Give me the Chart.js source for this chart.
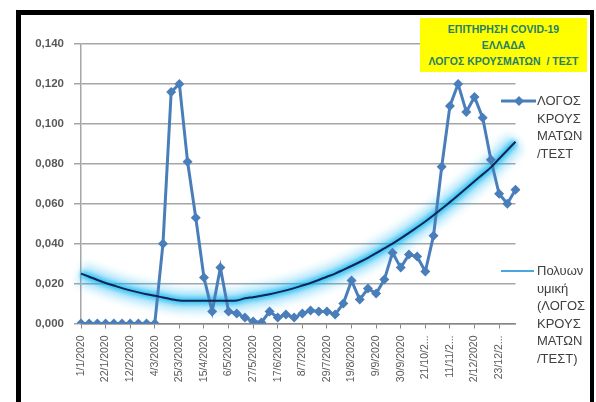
<!DOCTYPE html>
<html>
<head>
<meta charset="utf-8">
<script src="https://cdn.jsdelivr.net/npm/chart.js@4/dist/chart.umd.min.js"></script>
<style>
  html, body { margin: 0; padding: 0; background: #ffffff; }
  body { width: 596px; height: 402px; position: relative; overflow: hidden; font-family: "Liberation Sans", Arial, sans-serif; }
  #wrap { position: absolute; left: 0; top: 0; width: 596px; height: 402px; }
  .bd { position: absolute; background: #000; z-index: 5; }
  #titleBox { position: absolute; left: 420px; top: 18px; width: 167px; height: 54px; background: #ffff00; z-index: 4;
    color: #26806a; font: bold 10.5px "Liberation Sans Narrow", "Liberation Sans", Arial, sans-serif; text-align: center; line-height: 16px; padding-top: 3px; box-sizing: border-box; }
  .lg { position: absolute; z-index: 4; color: #404040; font: 13px "Liberation Sans", Arial, sans-serif; line-height: 17.5px; }
</style>
</head>
<body>
<div id="wrap"><canvas id="c" width="596" height="402"></canvas></div>
<div class="bd" style="left:16px; top:10px; width:5px; height:392px;"></div>
<div class="bd" style="left:16px; top:10px; width:578px; height:5px;"></div>
<div class="bd" style="left:590px; top:10px; width:4px; height:392px;"></div>
<div id="titleBox">ΕΠΙΤΗΡΗΣΗ COVID-19<br>ΕΛΛΑΔΑ<br>ΛΟΓΟΣ ΚΡΟΥΣΜΑΤΩΝ&nbsp; / ΤΕΣΤ</div>
<div id="legend"></div>
<script>
// ---- Data ----
const categories = [
  "1/1/2020","8/1/2020","15/1/2020","22/1/2020","29/1/2020","5/2/2020","12/2/2020","19/2/2020","26/2/2020",
  "4/3/2020","11/3/2020","18/3/2020","25/3/2020","1/4/2020","8/4/2020","15/4/2020","22/4/2020","29/4/2020",
  "6/5/2020","13/5/2020","20/5/2020","27/5/2020","3/6/2020","10/6/2020","17/6/2020","24/6/2020","1/7/2020",
  "8/7/2020","15/7/2020","22/7/2020","29/7/2020","5/8/2020","12/8/2020","19/8/2020","26/8/2020","2/9/2020",
  "9/9/2020","16/9/2020","23/9/2020","30/9/2020","7/10/2020","14/10/2020","21/10/2020","28/10/2020","4/11/2020",
  "11/11/2020","18/11/2020","25/11/2020","2/12/2020","9/12/2020","16/12/2020","23/12/2020","30/12/2020","6/1/2021"
];
const ratioValues = [
  0, 0, 0, 0, 0, 0, 0, 0, 0,
  0, 0.040, 0.116, 0.120, 0.081, 0.053, 0.023, 0.006, 0.028,
  0.006, 0.005, 0.003, 0.001, 0.0005, 0.006, 0.003, 0.0045, 0.003,
  0.005, 0.0065, 0.006, 0.006, 0.0045, 0.010, 0.0215, 0.012, 0.0175,
  0.015, 0.022, 0.0355, 0.028, 0.0345, 0.0335, 0.026, 0.044, 0.0785,
  0.109, 0.120, 0.106, 0.1135, 0.103, 0.082, 0.065, 0.060, 0.067
];
const trendValues = [
  0.0250, 0.0234, 0.0218, 0.0203, 0.0190, 0.0177, 0.0166, 0.0156, 0.0147,
  0.0139, 0.0130, 0.0122, 0.0115, 0.0114, 0.0114, 0.0114, 0.0114, 0.0114,
  0.0114, 0.0115, 0.0126, 0.0132, 0.0139, 0.0147, 0.0156, 0.0166, 0.0177,
  0.0190, 0.0203, 0.0218, 0.0234, 0.0250, 0.0269, 0.0288, 0.0308, 0.0329,
  0.0352, 0.0376, 0.0400, 0.0426, 0.0454, 0.0482, 0.0511, 0.0542, 0.0575,
  0.0608, 0.0642, 0.0677, 0.0712, 0.0747, 0.0782, 0.0825, 0.0868, 0.0910
];
const yMin = 0, yMax = 0.14, yStep = 0.02;
const labelEvery = 3;
const seriesName = "ΛΟΓΟΣ ΚΡΟΥΣΜΑΤΩΝ /ΤΕΣΤ";
const trendName = "Πολυωνυμική (ΛΟΓΟΣ ΚΡΟΥΣΜΑΤΩΝ /ΤΕΣΤ)";
const legendLines1 = ["ΛΟΓΟΣ", "ΚΡΟΥΣ", "ΜΑΤΩΝ", "/ΤΕΣΤ"];
const legendLines2 = ["Πολυων", "υμική", "(ΛΟΓΟΣ", "ΚΡΟΥΣ", "ΜΑΤΩΝ", "/ΤΕΣΤ)"];

// ---- Legend (HTML text) ----
(function(){
  const lg = document.getElementById('legend');
  lg.innerHTML =
    '<svg style="position:absolute;left:500px;top:94px;z-index:4" width="38" height="14">' +
      '<line x1="1" y1="7" x2="36" y2="7" stroke="#4A7EBB" stroke-width="3"/>' +
      '<polygon points="19,2 24,7 19,12 14,7" fill="#4A7EBB"/></svg>' +
    '<div class="lg" style="left:537px;top:92px;">' + legendLines1.join('<br>') + '</div>' +
    '<svg style="position:absolute;left:500px;top:264px;z-index:4" width="38" height="14">' +
      '<line x1="1" y1="7" x2="34" y2="7" stroke="#4aa6df" stroke-width="2"/></svg>' +
    '<div class="lg" style="left:537px;top:262px;">' + legendLines2.join('<br>') + '</div>';
})();

// ---- Glow plugin ----
const glowPlugin = {
  id: 'glow',
  beforeDatasetDraw(chart, args) {
    const ds = chart.data.datasets[args.index];
    if (ds.glowBlur) { chart.ctx.save(); chart.ctx.filter = 'blur(' + ds.glowBlur + 'px)'; }
  },
  afterDatasetDraw(chart, args) {
    const ds = chart.data.datasets[args.index];
    if (ds.glowBlur) { chart.ctx.restore(); }
  }
};

const fmt = v => v.toFixed(3).replace('.', ',');
const shortLabel = s => s.length > 9 ? s.slice(0, 7) + '...' : s;

new Chart(document.getElementById('c'), {
  type: 'line',
  data: {
    labels: categories,
    datasets: [
      { label: trendName, data: trendValues, borderColor: '#10254f', borderWidth: 2, pointRadius: 0, tension: 0.3, order: 0 },
      { label: seriesName, data: ratioValues, borderColor: '#4A7EBB', backgroundColor: '#4A7EBB', borderWidth: 3,
        pointStyle: 'rectRot', pointRadius: 5, pointBorderWidth: 0, tension: 0, order: 1 },
      { label: 'glow1', data: trendValues, borderColor: 'rgba(20,185,245,0.75)', borderWidth: 7, pointRadius: 0, tension: 0.3, order: 2, glowBlur: 2 },
      { label: 'glow2', data: trendValues, borderColor: 'rgba(0,176,240,0.35)', borderWidth: 20, pointRadius: 0, tension: 0.3, order: 3, glowBlur: 5 }
    ]
  },
  options: {
    responsive: false,
    animation: false,
    devicePixelRatio: 1,
    layout: { padding: { top: 44, right: 80.5, bottom: 0, left: 0 } },
    plugins: { legend: { display: false }, tooltip: { enabled: false }, title: { display: false } },
    scales: {
      x: {
        type: 'category',
        offset: false,
        afterFit: s => { s.height = 78.5; },
        grid: {
          drawOnChartArea: false, drawTicks: true, tickLength: 5,
          color: ctx => (ctx.index % labelEvery === 0 ? '#868686' : 'rgba(0,0,0,0)')
        },
        border: { color: '#868686', width: 1.5 },
        ticks: {
          autoSkip: false, minRotation: 90, maxRotation: 90, padding: 7,
          color: '#595959', font: { family: 'Liberation Sans', size: 10.5 },
          callback: function(v, i) { return i % labelEvery === 0 ? shortLabel(this.getLabelForValue(v)) : ''; }
        }
      },
      y: {
        min: yMin, max: yMax,
        afterFit: s => { s.width = 81; },
        grid: { color: '#a6a6a6', lineWidth: 1.5, tickLength: 7 },
        border: { color: '#a6a6a6', width: 1.5 },
        ticks: { stepSize: yStep, padding: 10, color: '#595959', font: { family: 'Liberation Sans', size: 11.5, weight: 'bold' },
          callback: v => fmt(v) }
      }
    }
  },
  plugins: [glowPlugin]
});
</script>
</body>
</html>
